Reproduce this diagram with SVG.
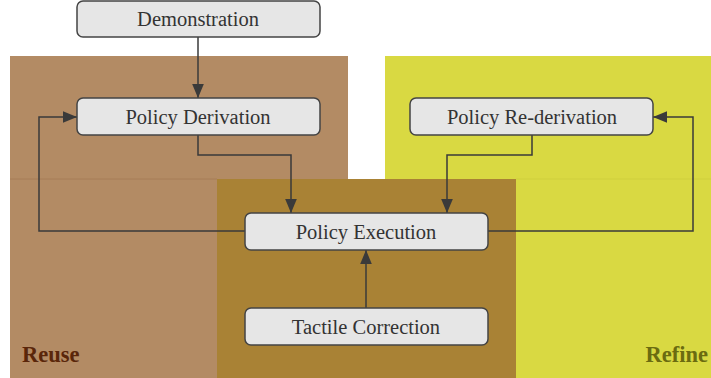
<svg xmlns="http://www.w3.org/2000/svg" width="711" height="378" viewBox="0 0 711 378">
<style>
.node rect{fill:#e6e6e6;stroke:#444;stroke-width:1.5}
.node text{font-size:20.5px;fill:#333;text-anchor:middle}
.conn path{fill:none;stroke:#3a3a3a;stroke-width:1.5}
.lbl{font-size:22.5px;font-weight:bold}
</style>
<defs>
<marker id="ah2" viewBox="0 0 12 10" refX="12" refY="5" markerWidth="14" markerHeight="12" markerUnits="userSpaceOnUse" orient="auto">
<path d="M0,0 L12,5 L0,10 z" fill="#3a3a3a"/>
</marker>
</defs>
<g id="regions">
<rect x="10" y="56" width="338" height="322" fill="#b38b64"/>
<rect x="385" y="56" width="326" height="322" fill="#d9d942"/>
<rect x="217" y="179" width="299" height="199" fill="#a98235"/>
<line x1="10" y1="179" x2="217" y2="179" stroke="#a67c56" stroke-width="1"/>
<line x1="516" y1="179" x2="711" y2="179" stroke="#cfcf3c" stroke-width="1"/>
<text class="lbl" font-family="Liberation Serif, DejaVu Serif, serif" x="22" y="362" fill="#5a260a">Reuse</text>
<text class="lbl" font-family="Liberation Serif, DejaVu Serif, serif" x="708" y="362" fill="#6b6b10" text-anchor="end">Refine</text>
</g>
<g class="conn" id="connectors">
<path d="M198,37 V98" marker-end="url(#ah2)"/>
<path d="M198,135 V155 H291 V213" marker-end="url(#ah2)"/>
<path d="M532,135 V155 H447 V213" marker-end="url(#ah2)"/>
<path d="M245,231 H39 V117 H77" marker-end="url(#ah2)"/>
<path d="M488,231 H693 V117 H653" marker-end="url(#ah2)"/>
<path d="M366,308 V250" marker-end="url(#ah2)"/>
</g>
<g class="node" id="demonstration" font-family="Liberation Serif, DejaVu Serif, serif"><rect x="77" y="1" width="243" height="36" rx="6"/><text x="198" y="26">Demonstration</text></g>
<g class="node" id="policy-derivation" font-family="Liberation Serif, DejaVu Serif, serif"><rect x="77" y="98" width="243" height="37" rx="6"/><text x="198" y="123.5">Policy Derivation</text></g>
<g class="node" id="policy-rederivation" font-family="Liberation Serif, DejaVu Serif, serif"><rect x="410" y="98" width="243" height="37" rx="6"/><text x="532" y="123.5">Policy Re-derivation</text></g>
<g class="node" id="policy-execution" font-family="Liberation Serif, DejaVu Serif, serif"><rect x="245" y="213" width="243" height="37" rx="6"/><text x="366" y="238.5">Policy Execution</text></g>
<g class="node" id="tactile-correction" font-family="Liberation Serif, DejaVu Serif, serif"><rect x="245" y="308" width="243" height="37" rx="6"/><text x="366" y="333.5">Tactile Correction</text></g>
</svg>
